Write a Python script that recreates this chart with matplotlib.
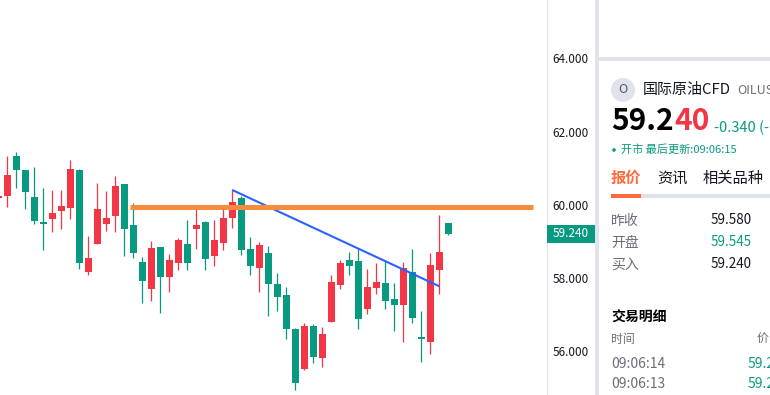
import matplotlib
matplotlib.use('Agg')
import matplotlib.pyplot as plt
from matplotlib.patches import Rectangle, Circle
from matplotlib.transforms import ScaledTranslation

plt.rcParams['font.family'] = ['Noto Sans CJK SC', 'DejaVu Sans']

# candles, index 0 sits just off the left edge of the crop
opens = [60.21, 60.27, 61.36, 60.98, 60.24, 59.56, 59.64, 59.86, 59.94, 60.98, 58.19, 58.95, 59.50, 59.72, 60.59,
         59.47, 58.46, 57.72, 58.87, 58.05, 58.44, 58.95, 59.36, 59.56, 58.63, 58.98, 59.66, 60.21, 58.82, 58.30,
         58.71, 57.86, 57.56, 56.63, 55.54, 56.71, 55.84, 56.82, 57.83, 58.52, 58.49, 57.18, 57.75, 57.89, 57.45,
         57.29, 58.19, 56.41, 56.28, 58.24, 59.53]
highs = [60.27, 61.36, 61.47, 60.98, 61.06, 60.48, 60.43, 60.43, 61.25, 61.00, 59.17, 60.62, 60.40, 60.81, 60.59,
         60.07, 58.60, 59.04, 58.87, 58.68, 59.12, 59.61, 59.96, 59.58, 59.61, 59.94, 60.46, 60.27, 59.15, 59.01,
         58.90, 58.16, 57.78, 56.66, 56.80, 56.77, 56.69, 58.11, 58.52, 58.74, 58.82, 58.27, 58.44, 58.49, 57.89,
         58.46, 58.82, 57.12, 58.71, 59.75, 59.53]
lows = [60.21, 59.96, 60.48, 59.91, 59.50, 58.79, 59.28, 59.36, 59.64, 58.27, 58.11, 58.95, 59.31, 59.28, 58.63,
        58.57, 57.34, 57.40, 57.07, 57.64, 58.24, 58.24, 58.82, 58.24, 58.35, 58.79, 59.39, 58.65, 58.11, 57.64,
        56.99, 57.12, 56.36, 54.97, 55.51, 55.71, 55.59, 56.82, 57.72, 58.11, 56.63, 57.04, 57.59, 57.18, 56.58,
        56.28, 56.80, 55.73, 55.95, 57.59, 59.20]
closes = [60.27, 60.84, 60.98, 60.37, 59.58, 59.50, 59.80, 59.99, 61.00, 58.44, 58.57, 59.91, 59.66, 60.54, 59.36,
          58.71, 57.94, 58.85, 58.05, 58.52, 59.06, 58.44, 59.47, 58.54, 59.06, 59.66, 60.10, 58.79, 58.35, 58.93,
          57.86, 57.51, 56.63, 55.16, 56.71, 55.87, 56.49, 57.92, 58.44, 58.35, 56.91, 57.78, 57.92, 57.40, 57.29,
          58.30, 56.93, 56.36, 58.38, 58.74, 59.24]

price_ticks = [56, 58, 60, 62, 64]
level_price = 59.96
level_idx = [14.63, 59.4]
trend_idx = [26, 49]
trend_price = [60.43, 57.80]
last_price = '59.240'

quote_rows = ['昨收', '开盘', '买入']
quote_vals = ['59.580', '59.545', '59.240']
trade_times = ['09:06:14', '09:06:13']
trade_price = '59.2'

UP = '#f23645'
DOWN = '#089981'
BAND = '#e0e3eb'
ORANGE = '#ff6b3d'

fig = plt.figure(figsize=(7.7, 3.95), dpi=100, facecolor='white')

# chart pane is 547 px wide, 9 px per candle
ax = fig.add_axes([0, 0, 547 / 770, 1])
ax.set_xlim(0.189, 60.97)
ax.set_ylim(54.83, 65.62)
ax.yaxis.tick_right()
ax.set_yticks(price_ticks)
ax.set_yticklabels(['%.3f' % p for p in price_ticks], fontsize=8.5, color='#131722')
ax.tick_params(axis='y', length=0, pad=4)
ax.set_xticks([])
for side in ['left', 'top', 'bottom']:
    ax.spines[side].set_visible(False)
ax.spines['right'].set_color(BAND)
ax.spines['right'].set_linewidth(0.8)

# labels sit about a pixel high in the reference
nudge = ScaledTranslation(0, 0.01, fig.dpi_scale_trans)
for lab in ax.get_yticklabels():
    lab.set_transform(lab.get_transform() + nudge)

for i in range(len(opens)):
    col = UP if closes[i] >= opens[i] else DOWN
    ax.vlines(i, lows[i], highs[i], color=col, linewidth=0.9, zorder=2)
    ax.bar(i, abs(closes[i] - opens[i]), bottom=min(opens[i], closes[i]), width=0.78,
           color=col, linewidth=0, zorder=3)

ax.plot(trend_idx, trend_price, color='#2962ff', linewidth=1.5, zorder=4, solid_capstyle='butt')
ax.plot(level_idx, [level_price, level_price], color='#f98b3d', linewidth=3.6, zorder=5,
        solid_capstyle='butt')

# right side panel, in pixel coordinates
panel = fig.add_axes([0, 0, 1, 1], facecolor='none')
panel.set_xlim(0, 770)
panel.set_ylim(395, 0)
panel.axis('off')

panel.add_patch(Rectangle((595, 0), 4, 395, color=BAND, linewidth=0))
panel.add_patch(Rectangle((599, 57), 171, 4, color=BAND, linewidth=0))
panel.add_patch(Rectangle((547, 225), 48, 18, color=DOWN, linewidth=0))
panel.text(571, 233.5, last_price, color='white', fontsize=8.5, ha='center', va='center', fontweight='medium')

panel.add_patch(Circle((623, 90), 12, color=BAND, linewidth=0))
panel.text(623, 89.5, 'O', color='#50535e', fontsize=9, ha='center', va='center')
panel.text(643, 90, '国际原油CFD', color='#131722', fontsize=10.8, va='center')
panel.text(737, 90.5, 'OILUS', color='#6a6d78', fontsize=9, va='center')

panel.text(611, 121, '59.2', color='black', fontsize=21.5, fontweight='bold', va='center')
panel.text(674, 121, '40', color=UP, fontsize=21.5, fontweight='bold', va='center')
panel.text(714, 127.5, '-0.340 (-', color=DOWN, fontsize=10.5, va='center')

panel.add_patch(Circle((614, 150), 1.8, color=DOWN, linewidth=0))
panel.text(621, 150, '开市 最后更新:09:06:15', color=DOWN, fontsize=8, va='center')

panel.text(611, 178, '报价', color=ORANGE, fontsize=11, fontweight='bold', va='center')
panel.text(657, 178, '资讯', color='#131722', fontsize=11, va='center')
panel.text(703, 178, '相关品种', color='#131722', fontsize=11, va='center')
panel.add_patch(Rectangle((611, 194), 159, 4, color=BAND, linewidth=0))
panel.add_patch(Rectangle((611, 194), 30, 4, color=ORANGE, linewidth=0))

for k in range(3):
    y = 219.5 + 22 * k
    panel.text(611, y + 1, quote_rows[k], color='#6a6d78', fontsize=10, va='center')
    panel.text(752, y, quote_vals[k], color=DOWN if k == 1 else '#131722', fontsize=9.7, ha='right', va='center')

panel.text(611, 317.5, '交易明细', color='black', fontsize=10, fontweight='bold', va='center')
panel.text(611, 339.5, '时间', color='#6a6d78', fontsize=8.6, va='center')
panel.text(757, 339.5, '价', color='#6a6d78', fontsize=8.6, va='center')
for k in range(2):
    y = 363.5 + 20 * k
    panel.text(611, y, trade_times[k], color='#6a6d78', fontsize=10, va='center')
    panel.text(748, y, trade_price, color=DOWN, fontsize=10, va='center')

fig.savefig('out.png', dpi=100)
